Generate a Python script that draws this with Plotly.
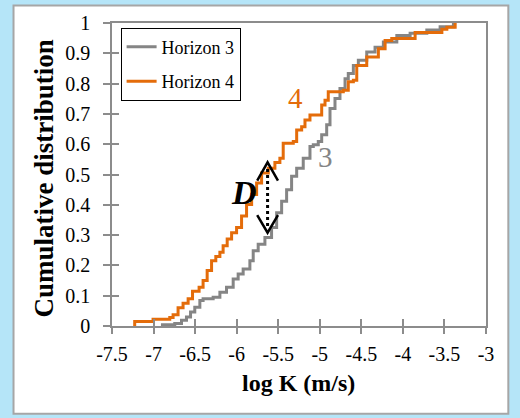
import plotly.graph_objects as go

# ---- data ----
h3_logk = [-6.893, -6.745, -6.664, -6.604, -6.555, -6.504, -6.443, -6.404, -6.283, -6.202,
           -6.122, -6.042, -5.982, -5.922, -5.841, -5.801, -5.741, -5.66, -5.58, -5.519,
           -5.459, -5.399, -5.339, -5.278, -5.199, -5.118, -5.078, -5.018, -4.977, -4.917,
           -4.877, -4.817, -4.757, -4.696, -4.657, -4.596, -4.536, -4.435, -4.335, -4.235,
           -4.073, -3.913, -3.712, -3.552, -3.392]
h3_cdf = [0.004, 0.008, 0.019, 0.03, 0.046, 0.062, 0.084, 0.09, 0.095, 0.111,
          0.128, 0.155, 0.172, 0.188, 0.215, 0.248, 0.27, 0.292, 0.325, 0.374,
          0.412, 0.45, 0.494, 0.521, 0.554, 0.592, 0.598, 0.609, 0.631, 0.664,
          0.718, 0.751, 0.784, 0.816, 0.833, 0.86, 0.877, 0.904, 0.92, 0.937,
          0.959, 0.966, 0.977, 0.988, 1.0]

h4_logk = [-7.227, -7.006, -6.805, -6.765, -6.705, -6.645, -6.584, -6.531, -6.452, -6.404,
           -6.355, -6.302, -6.251, -6.202, -6.163, -6.114, -6.061, -6.001, -5.941, -5.881,
           -5.82, -5.76, -5.70, -5.62, -5.54, -5.48, -5.44, -5.319, -5.278, -5.218,
           -5.178, -5.118, -4.977, -4.937, -4.898, -4.717, -4.657, -4.596, -4.555, -4.435,
           -4.295, -4.214, -4.134, -3.853, -3.531, -3.471, -3.371]
h4_cdf = [0.015, 0.022, 0.028, 0.037, 0.06, 0.075, 0.09, 0.115, 0.128, 0.15,
          0.183, 0.215, 0.229, 0.243, 0.265, 0.287, 0.308, 0.325, 0.363, 0.401,
          0.434, 0.472, 0.505, 0.521, 0.54, 0.554, 0.603, 0.609, 0.647, 0.658,
          0.68, 0.696, 0.729, 0.745, 0.773, 0.778, 0.806, 0.811, 0.86, 0.888,
          0.915, 0.942, 0.949, 0.969, 0.979, 0.986, 1.0]

series_names = ["Horizon 3", "Horizon 4"]
x_ticks = [-7.5, -7, -6.5, -6, -5.5, -5, -4.5, -4, -3.5, -3]
x_tick_labels = ["-7.5", "-7", "-6.5", "-6", "-5.5", "-5", "-4.5", "-4", "-3.5", "-3"]
y_ticks = [0, 0.1, 0.2, 0.3, 0.4, 0.5, 0.6, 0.7, 0.8, 0.9, 1]
y_tick_labels = ["0", "0.1", "0.2", "0.3", "0.4", "0.5", "0.6", "0.7", "0.8", "0.9", "1"]

GRAY = "#858585"
ORANGE = "#E46C0A"
FONT = "Liberation Serif"
AXC = "#8C8C8C"

fig = go.Figure()
fig.add_trace(go.Scatter(x=[h3_logk[0]] + h3_logk, y=[0] + h3_cdf, mode="lines",
                         line=dict(color=GRAY, width=3, shape="hv"),
                         name=series_names[0], legendgroup="g3"))
fig.add_trace(go.Scatter(x=[h4_logk[0]] + h4_logk, y=[0] + h4_cdf, mode="lines",
                         line=dict(color=ORANGE, width=3, shape="hv"),
                         name=series_names[1], legendgroup="g4"))
# invisible trace to carry overlay axes (inner half of crossing ticks)
fig.add_trace(go.Scatter(x=h3_logk, y=h3_cdf, xaxis="x2", yaxis="y2", mode="lines",
                         line=dict(color="rgba(0,0,0,0)"), showlegend=False, hoverinfo="skip"))

axis_common = dict(showgrid=False, zeroline=False, showline=True, linecolor=AXC, linewidth=1.5,
                   mirror=True, ticks="outside", tickcolor=AXC, tickwidth=1.5,
                   tickfont=dict(family=FONT, size=20, color="#000"))
fig.update_layout(
    font=dict(family=FONT, color="#000"),
    xaxis=dict(range=[-7.5, -3], tickvals=x_ticks, ticktext=x_tick_labels, ticklen=6,
               ticklabelstandoff=3, **axis_common),
    yaxis=dict(range=[0, 1], tickvals=y_ticks, ticktext=y_tick_labels, ticklen=7,
               ticklabelstandoff=9, **axis_common),
    xaxis2=dict(overlaying="x", matches="x", anchor="y2", tickvals=x_ticks, ticks="inside",
                ticklen=7, tickcolor=AXC, tickwidth=1.5, showticklabels=False,
                showgrid=False, zeroline=False, showline=False),
    yaxis2=dict(overlaying="y", matches="y", anchor="x2", tickvals=y_ticks, ticks="inside",
                ticklen=7, tickcolor=AXC, tickwidth=1.5, showticklabels=False,
                showgrid=False, zeroline=False, showline=False),
    width=520, height=418,
    margin=dict(l=112, r=34, t=21, b=92),
    paper_bgcolor="#B5E5F8",
    plot_bgcolor="white",
    legend=dict(x=0.023, y=0.985, xanchor="left", yanchor="top", bgcolor="white",
                bordercolor="black", borderwidth=1, font=dict(family=FONT, size=18, color="#000"),
                traceorder="grouped", tracegroupgap=8, itemwidth=30),
    showlegend=True,
)

# white panel behind everything
fig.add_shape(type="rect", xref="paper", yref="paper", x0=-0.2633, x1=1.0597, y0=-0.2895, y1=1.058,
              fillcolor="white", line=dict(color="#A6A6A6", width=2), layer="below")

# D arrow (dotted with open chevrons)
ax = -5.628
fig.add_shape(type="line", x0=ax, x1=ax, y0=0.33, y1=0.52, line=dict(color="black", width=3, dash="dot"))
fig.add_shape(type="path", path=f"M {ax-0.125},0.48 L {ax},0.54 L {ax+0.125},0.48",
              line=dict(color="black", width=2.5))
fig.add_shape(type="path", path=f"M {ax-0.125},0.366 L {ax},0.308 L {ax+0.125},0.366",
              line=dict(color="black", width=2.5))

fig.add_annotation(x=-5.913, y=0.44, text="<b><i>D</i></b>", showarrow=False,
                   font=dict(family=FONT, size=34, color="black"))
fig.add_annotation(x=-5.287, y=0.753, text="4", showarrow=False,
                   font=dict(family=FONT, size=29, color=ORANGE))
fig.add_annotation(x=-4.937, y=0.558, text="3", showarrow=False,
                   font=dict(family=FONT, size=29, color=GRAY))

# axis titles
fig.add_annotation(xref="paper", yref="paper", x=-0.183, y=0.485, text="<b>Cumulative distribution</b>",
                   textangle=-90, showarrow=False, xanchor="center", yanchor="middle",
                   font=dict(family=FONT, size=27, color="black"))
fig.add_annotation(xref="paper", yref="paper", x=0.4987, y=-0.188, text="<b>log K (m/s)</b>",
                   showarrow=False, xanchor="center", yanchor="middle",
                   font=dict(family=FONT, size=24, color="black"))

fig.write_html("out.html", config={"displayModeBar": False},
               post_script="document.body.style.margin='0px';document.body.style.padding='0px';")
